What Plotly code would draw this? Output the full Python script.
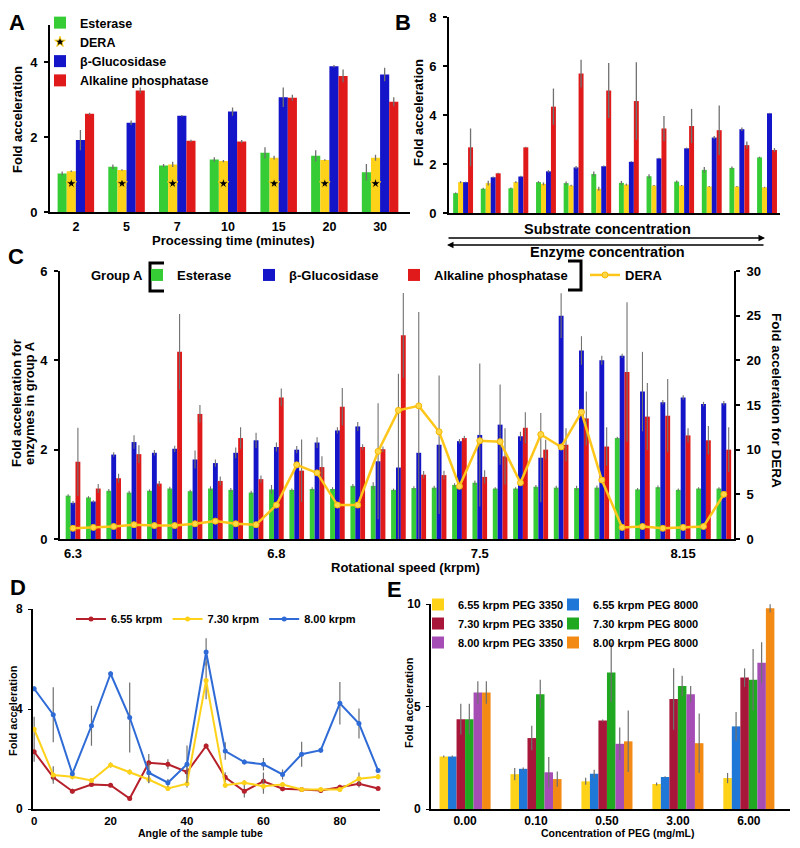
import plotly.graph_objects as go

# ---------------- data ----------------
# Panel A: processing time
time_labels = ["2", "5", "7", "10", "15", "20", "30"]
a_esterase = [1.03, 1.21, 1.24, 1.40, 1.58, 1.50, 1.06]
a_esterase_err = [0.05, 0.06, 0.04, 0.06, 0.15, 0.15, 0.22]
a_dera = [1.09, 1.12, 1.27, 1.36, 1.45, 1.39, 1.45]
a_dera_err = [0.02, 0.02, 0.07, 0.03, 0.05, 0.02, 0.08]
a_gluc = [1.92, 2.38, 2.57, 2.68, 3.06, 3.89, 3.67]
a_gluc_err = [0.27, 0.06, 0.02, 0.11, 0.26, 0.03, 0.18]
a_alp = [2.62, 3.24, 1.90, 1.88, 3.05, 3.63, 2.94]
a_alp_err = [0.03, 0.08, 0.03, 0.04, 0.08, 0.17, 0.12]
a_star_y = [0.76, 0.76, 0.76, 0.76, 0.76, 0.76, 0.76]

# Panel B: substrate / enzyme concentration series
b_esterase = [0.81, 0.99, 1.01, 1.26, 1.22, 1.59, 1.23, 1.50, 1.28, 1.76, 1.84, 2.27]
b_esterase_err = [0.03, 0.04, 0.03, 0.04, 0.07, 0.10, 0.08, 0.08, 0.05, 0.12, 0.06, 0.03]
b_dera = [1.26, 1.22, 1.26, 1.19, 1.12, 0.99, 1.16, 1.12, 1.12, 1.08, 1.08, 1.05]
b_dera_err = [0.04, 0.10, 0.04, 0.06, 0.03, 0.08, 0.04, 0.02, 0.02, 0.02, 0.02, 0.02]
b_gluc = [1.26, 1.46, 1.49, 1.70, 1.86, 1.91, 2.09, 2.23, 2.64, 3.08, 3.42, 4.07]
b_gluc_err = [0.02, 0.03, 0.03, 0.05, 0.06, 0.03, 0.02, 0.03, 0.03, 0.06, 0.07, 0.02]
b_alp = [2.68, 1.62, 2.68, 4.34, 5.69, 5.00, 4.57, 3.45, 3.55, 3.38, 2.77, 2.57]
b_alp_err = [0.77, 0.02, 0.02, 0.74, 0.57, 1.12, 1.58, 0.51, 0.70, 1.01, 0.15, 0.08]

# Panel C: rotational speed
c_tick_index = [0, 10, 20, 30]
c_tick_labels = ["6.3", "6.8", "7.5", "8.15"]
c_esterase = [0.97, 0.93, 1.08, 1.04, 1.08, 1.13, 1.07, 1.13, 1.10, 1.04, 1.11,
              1.10, 1.12, 1.12, 1.19, 1.19, 1.10, 1.14, 1.15, 1.21, 1.26, 1.13, 1.13, 1.17,
              1.15, 1.14, 1.15, 2.26, 1.11, 1.16, 1.10, 1.13, 1.13]
c_esterase_err = [0.03, 0.03, 0.04, 0.04, 0.03, 0.04, 0.03, 0.05, 0.04, 0.04, 0.10,
                  0.03, 0.04, 0.04, 0.04, 0.08, 0.03, 0.04, 0.04, 0.04, 0.05, 0.03, 0.03, 0.04,
                  0.04, 0.05, 0.05, 0.03, 0.03, 0.04, 0.03, 0.03, 0.03]
c_gluc = [0.81, 0.84, 1.89, 2.17, 1.93, 2.02, 1.78, 1.70, 1.93, 2.21, 2.06,
          2.00, 2.16, 2.43, 2.52, 1.74, 1.60, 1.93, 2.11, 2.19, 2.33, 2.56, 2.30, 1.82,
          5.00, 4.22, 4.00, 4.10, 3.30, 3.06, 3.17, 3.02, 3.04]
c_gluc_err = [0.04, 0.03, 0.05, 0.15, 0.06, 0.07, 0.20, 0.08, 0.12, 0.17, 0.10,
              0.08, 0.12, 0.07, 0.10, 1.30, 2.10, 3.15, 1.55, 0.05, 1.60, 0.90, 0.10, 1.00,
              0.50, 0.32, 0.10, 0.05, 0.89, 0.05, 0.05, 0.05, 0.05]
c_alp = [1.73, 1.13, 1.36, 1.90, 1.24, 4.19, 2.80, 1.30, 2.26, 1.34, 3.17,
         1.53, 1.61, 2.96, 2.06, 2.01, 4.56, 1.44, 1.43, 2.26, 1.39, 1.85, 2.49, 2.00,
         2.11, 2.70, 2.07, 3.74, 2.74, 2.76, 2.32, 2.21, 2.00]
c_alp_err = [0.76, 0.10, 0.10, 0.20, 0.06, 0.85, 0.20, 0.10, 0.24, 0.08, 0.20,
             0.70, 0.24, 0.42, 0.06, 0.06, 0.95, 0.08, 0.10, 0.05, 0.15, 0.63, 0.35, 0.22,
             0.37, 0.60, 0.43, 1.56, 0.75, 0.82, 0.16, 0.32, 0.50]
c_dera = [1.2, 1.3, 1.4, 1.6, 1.5, 1.5, 1.7, 2.0, 1.7, 1.6, 3.8,
          8.3, 7.4, 3.8, 3.8, 9.8, 14.4, 14.9, 12.0, 5.9, 11.0, 10.9, 6.3, 11.7,
          10.3, 14.2, 6.6, 1.3, 1.4, 1.2, 1.3, 1.4, 5.0]

# Panel D: tube angle
d_angle = [0, 5, 10, 15, 20, 25, 30, 35, 40, 45, 50, 55, 60, 65, 70, 75, 80, 85, 90]
d_655 = [2.29, 1.27, 0.71, 0.98, 0.95, 0.42, 1.85, 1.79, 1.48, 2.52, 1.27, 0.71, 1.11, 0.81, 0.78, 0.74, 0.87, 1.01, 0.82]
d_655_err = [0.40, 0.15, 0.10, 0.10, 0.05, 0.10, 0.35, 0.20, 0.25, 0.10, 0.20, 0.25, 0.35, 0.10, 0.05, 0.10, 0.10, 0.15, 0.05]
d_730 = [3.19, 1.36, 1.29, 1.14, 1.76, 1.48, 1.18, 0.82, 1.01, 5.14, 0.95, 1.05, 0.91, 0.98, 0.78, 0.78, 0.78, 1.21, 1.29]
d_730_err = [0.50, 0.35, 0.10, 0.10, 0.10, 0.10, 0.15, 0.10, 0.15, 0.75, 0.10, 0.10, 0.30, 0.10, 0.05, 0.05, 0.10, 0.25, 0.10]
d_800 = [4.81, 3.77, 1.41, 3.33, 5.41, 3.66, 1.45, 1.05, 1.79, 6.28, 2.32, 1.88, 1.79, 1.38, 2.19, 2.35, 4.23, 3.42, 1.54]
d_800_err = [0.10, 1.10, 0.10, 0.80, 0.10, 1.40, 0.40, 0.15, 0.75, 0.55, 0.35, 0.10, 0.25, 0.20, 0.50, 0.10, 0.85, 0.60, 0.10]

# Panel E: PEG concentration
peg_labels = ["0.00", "0.10", "0.50", "3.00", "6.00"]
e_655_3350 = [2.56, 1.70, 1.35, 1.22, 1.51]
e_655_3350_err = [0.05, 0.30, 0.17, 0.07, 0.25]
e_655_8000 = [2.56, 1.96, 1.72, 1.56, 4.03]
e_655_8000_err = [0.05, 0.07, 0.20, 0.04, 0.70]
e_730_3350 = [4.38, 3.46, 4.32, 5.37, 6.41]
e_730_3350_err = [0.75, 0.60, 0.05, 1.50, 0.45]
e_730_8000 = [4.38, 5.60, 6.66, 6.00, 6.30]
e_730_8000_err = [0.75, 0.70, 1.45, 0.50, 1.50]
e_800_3350 = [5.68, 1.79, 3.18, 5.60, 7.14]
e_800_3350_err = [0.55, 0.75, 0.80, 0.40, 1.00]
e_800_8000 = [5.68, 1.46, 3.30, 3.21, 9.79]
e_800_8000_err = [0.55, 0.37, 1.50, 1.45, 0.20]

# ---------------- styling ----------------
# the page body keeps its 8px margin, so the figure is 16px smaller than the window
OFF = 8
W, H = 800 - 2 * OFF, 848 - 2 * OFF
FONT = "Liberation Sans, Arial, sans-serif"
GREEN = "#36CC36"
YELLOW = "#FFD21A"
BLUE = "#1414C8"
RED = "#E01A1A"
ERR = "#707070"
BAR_GAP = 0.28


def px(x):
    # window pixel -> paper fraction
    return (x - OFF) / W


def py(y):
    return 1 - (y - OFF) / H


def leg_top(row1):
    # first legend row sits ~15px below the legend's top edge
    return py(row1 - 15)


def err(arr, th=1.3):
    return dict(type="data", array=arr, color=ERR, thickness=th, width=0)


def bfont(size):
    return dict(family=FONT, size=size, color="black", weight="bold")


fig = go.Figure()

# ---- A ----
idx_a = list(range(len(time_labels)))
for name, vals, errs, color, rank, show in [
    ("Esterase", a_esterase, a_esterase_err, GREEN, 1, True),
    ("DERA", a_dera, a_dera_err, YELLOW, 2, False),
    ("β-Glucosidase", a_gluc, a_gluc_err, BLUE, 3, True),
    ("Alkaline phosphatase", a_alp, a_alp_err, RED, 4, True),
]:
    fig.add_trace(go.Bar(x=idx_a, y=vals, error_y=err(errs), name=name, marker=dict(color=color, line_width=0),
                         xaxis="x", yaxis="y", legend="legend", legendrank=rank, showlegend=show))
# yellow bar is second of four in each group
bar_w = (1 - BAR_GAP) / 4
star_x = [i - (1 - BAR_GAP) / 2 + 1.5 * bar_w for i in idx_a]
fig.add_trace(go.Scatter(x=star_x, y=a_star_y, mode="markers", name="DERA",
                         marker=dict(symbol="star", size=8, color="black", line=dict(color=YELLOW, width=1)),
                         xaxis="x", yaxis="y", legend="legend", legendrank=2))

# ---- B ----
idx_b = list(range(len(b_esterase)))
for name, vals, errs, color in [
    ("Esterase", b_esterase, b_esterase_err, GREEN),
    ("DERA", b_dera, b_dera_err, YELLOW),
    ("β-Glucosidase", b_gluc, b_gluc_err, BLUE),
    ("Alkaline phosphatase", b_alp, b_alp_err, RED),
]:
    fig.add_trace(go.Bar(x=idx_b, y=vals, error_y=err(errs), name=name, marker=dict(color=color, line_width=0),
                         xaxis="x2", yaxis="y2", showlegend=False))

# ---- C ----
idx_c = list(range(len(c_esterase)))
for name, vals, errs, color, lw in [
    ("Esterase", c_esterase, c_esterase_err, GREEN, 67),
    ("β-Glucosidase", c_gluc, c_gluc_err, BLUE, 100),
    ("Alkaline phosphatase", c_alp, c_alp_err, RED, 146),
]:
    fig.add_trace(go.Bar(x=idx_c, y=vals, error_y=err(errs, 1.1), name=name, marker=dict(color=color, line_width=0),
                         xaxis="x3", yaxis="y3", legend="legend2", legendwidth=lw))
fig.add_trace(go.Scatter(x=idx_c, y=c_dera, mode="lines+markers", name="DERA",
                         line=dict(color="#FFC61A", width=2.5),
                         marker=dict(size=6, color="#FFD84A", line=dict(color="#F5B800", width=1)),
                         xaxis="x3", yaxis="y4", legend="legend2"))

# ---- D ----
for name, vals, errs, color in [
    ("6.55 krpm", d_655, d_655_err, "#B5202A"),
    ("7.30 krpm", d_730, d_730_err, "#FFD21A"),
    ("8.00 krpm", d_800, d_800_err, "#2F6BD6"),
]:
    fig.add_trace(go.Scatter(x=d_angle, y=vals, error_y=err(errs, 1.2), mode="lines+markers", name=name,
                             line=dict(color=color, width=2), marker=dict(size=5, color=color),
                             cliponaxis=False, xaxis="x4", yaxis="y5", legend="legend3"))

# ---- E ----
for name, vals, errs, color, leg in [
    ("6.55 krpm PEG 3350", e_655_3350, e_655_3350_err, "#FFD21A", "legend4"),
    ("6.55 krpm PEG 8000", e_655_8000, e_655_8000_err, "#1F78D8", "legend5"),
    ("7.30 krpm PEG 3350", e_730_3350, e_730_3350_err, "#A8163A", "legend4"),
    ("7.30 krpm PEG 8000", e_730_8000, e_730_8000_err, "#20A820", "legend5"),
    ("8.00 krpm PEG 3350", e_800_3350, e_800_3350_err, "#A54DB5", "legend4"),
    ("8.00 krpm PEG 8000", e_800_8000, e_800_8000_err, "#F28A14", "legend5"),
]:
    fig.add_trace(go.Bar(x=peg_labels, y=vals, error_y=err(errs, 1.2), name=name,
                         marker=dict(color=color, line_width=0), xaxis="x5", yaxis="y6", legend=leg))


# ---------------- axes ----------------
def ax(**kw):
    d = dict(showline=True, linecolor="black", linewidth=2, showgrid=False, zeroline=False,
             ticks="", tickfont=bfont(13), fixedrange=True)
    d.update(kw)
    return d


yt = dict(ticks="outside", ticklen=4, tickwidth=1.5, tickcolor="black", ticklabelstandoff=4)

fig.update_layout(
    xaxis=ax(domain=[px(50), px(410)], range=[-0.51, 6.59], anchor="y", tickfont=bfont(12.5),
             tickvals=idx_a, ticktext=time_labels, ticklabelstandoff=2),
    yaxis=ax(domain=[py(212), py(24.5)], range=[0, 5], anchor="x", tickvals=[0, 2, 4], **yt),
    xaxis2=ax(domain=[px(449), px(780)], range=[-0.51, 11.47], anchor="y2", showticklabels=False),
    yaxis2=ax(domain=[py(213), py(17)], range=[0, 8], anchor="x2", dtick=2, **yt),
    xaxis3=ax(domain=[px(60), px(734)], range=[-0.64, 32.5], anchor="y3",
              tickvals=c_tick_index, ticktext=c_tick_labels, ticklabelstandoff=1),
    yaxis3=ax(domain=[py(539), py(271)], range=[0, 6], anchor="x3", dtick=2, **yt),
    yaxis4=ax(range=[0, 30], overlaying="y3", side="right", anchor="x3", dtick=5, **yt),
    xaxis4=ax(domain=[px(33), px(380)], range=[-0.3, 90.5], anchor="y5", dtick=20,
              tickfont=bfont(11.5), ticklabelstandoff=0),
    yaxis5=ax(domain=[py(809), py(609)], range=[0, 8], anchor="x4", dtick=4,
              ticks="outside", ticklen=3, tickcolor="black", tickfont=bfont(12), ticklabelstandoff=3),
    xaxis5=ax(domain=[px(431), px(790)], range=[-0.48, 4.58], anchor="y6", type="category",
              tickfont=bfont(12), ticklabelstandoff=0),
    yaxis6=ax(domain=[py(809), py(604)], range=[0, 10], anchor="x5", dtick=5,
              ticks="outside", ticklen=3, tickcolor="black", tickfont=bfont(12), ticklabelstandoff=3),
)

leg_base = dict(bgcolor="rgba(0,0,0,0)", borderwidth=0, xanchor="left", yanchor="top")
fig.update_layout(
    legend=dict(leg_base, x=px(40), y=leg_top(23), font=bfont(12.5), traceorder="normal"),
    legend2=dict(leg_base, x=px(137), y=py(275), yanchor="middle", orientation="h", font=bfont(13)),
    legend3=dict(leg_base, x=px(216), y=py(619), xanchor="center", yanchor="middle", orientation="h",
                 font=bfont(11)),
    legend4=dict(leg_base, x=px(418), y=leg_top(605), font=bfont(11)),
    legend5=dict(leg_base, x=px(553), y=leg_top(605), font=bfont(11)),
)


# ---------------- texts ----------------
def note(text, x, y, size, angle=0):
    fig.add_annotation(text=text, x=px(x), y=py(y), xref="paper", yref="paper", showarrow=False,
                       xanchor="center", yanchor="middle", textangle=angle, font=bfont(size))


for letter, x, y in [("A", 17, 22.5), ("B", 403, 22.5), ("C", 16, 256), ("D", 18, 587), ("E", 394, 589)]:
    note(letter, x, y, 22)

note("Fold acceleration", 18, 120, 13, -90)
note("Processing time (minutes)", 233, 241, 13)
note("Fold acceleration", 418, 113, 13, -90)
note("Substrate concentration", 607, 229, 14.5)
note("Enzyme concentration", 607, 252, 14.5)
note("Fold acceleration for", 16, 403, 13, -90)
note("enzymes in group A", 29, 403, 13, -90)
note("Fold acceleration for DERA", 777, 400, 13.5, 90)
note("Rotational speed (krpm)", 405, 567, 13)
note("Group A", 117, 275, 13)
note("Fold acceleration", 13, 711, 11, -90)
note("Angle of the sample tube", 200, 833, 10.5)
note("Fold acceleration", 409, 703, 11, -90)
note("Concentration of PEG (mg/mL)", 617, 833, 10.5)

# arrows under panel B
for head, tail, yy in [(765, 447, 238), (447, 765, 245)]:
    fig.add_annotation(x=px(head), y=py(yy), xref="paper", yref="paper", ax=tail - head, ay=0,
                       axref="pixel", ayref="pixel", text="", showarrow=True, arrowhead=2,
                       arrowsize=1, arrowwidth=1.3, arrowcolor="black")


# brackets around the group A legend
def bracket(x_line, x_tip, y0, y1):
    path = (f"M {px(x_tip)},{py(y0)} L {px(x_line)},{py(y0)} "
            f"L {px(x_line)},{py(y1)} L {px(x_tip)},{py(y1)}")
    fig.add_shape(type="path", path=path, xref="paper", yref="paper",
                  line=dict(color="black", width=3))


bracket(150, 164, 263, 291)
bracket(581, 568, 261, 290)

fig.update_layout(
    width=W, height=H, margin=dict(l=0, r=0, t=0, b=0, autoexpand=False),
    paper_bgcolor="white", plot_bgcolor="white",
    barmode="group", bargap=BAR_GAP, bargroupgap=0,
    font=dict(family=FONT, color="black"),
    hovermode=False,
)

fig.write_html("out.html")
